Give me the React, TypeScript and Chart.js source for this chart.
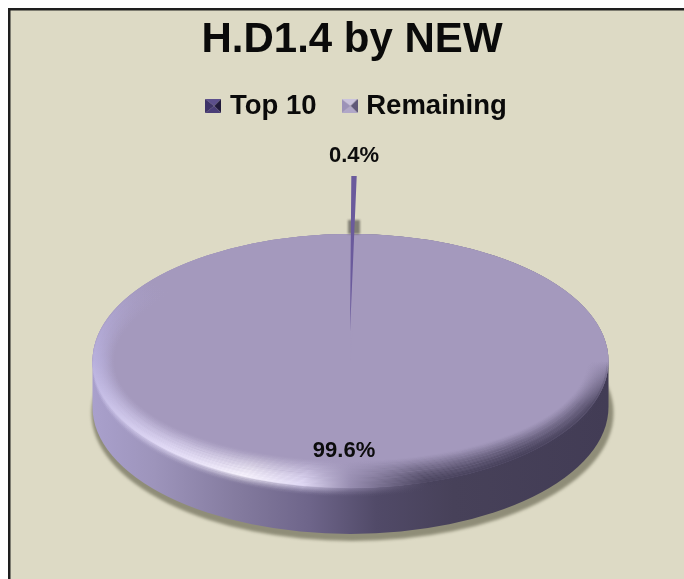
import { useEffect, useRef } from "react";
import { Chart, registerables } from "chart.js";

Chart.register(...registerables);

const TITLE = "H.D1.4 by NEW";
const categories = ["Top 10", "Remaining"];
const values = [0.4, 99.6];
const sliceColors = ["#6a5a9c", "#a499bd"];

const BG = "#dddac5";
const FRAME = "#1e1e1e";
// Projected disc: centre, half-axes and wall height.
const DISC = { cx: 350.5, cy: 361, rx: 258, ry: 127, wall: 46 };
// The narrow slice is pulled out towards the viewer's back.
const SLICE = { cx: 350, cy: 332, sx: 215, sy: 156 };

function marker(colors: string[]) {
  const c = document.createElement("canvas");
  c.width = 16;
  c.height = 14;
  const g = c.getContext("2d")!;
  const w = 16, h = 14, m = [w / 2 + 1, h / 2];
  const tri = (a: number[], b: number[], col: string) => {
    g.fillStyle = col;
    g.beginPath();
    g.moveTo(a[0], a[1]);
    g.lineTo(b[0], b[1]);
    g.lineTo(m[0], m[1]);
    g.closePath();
    g.fill();
  };
  tri([0, 0], [w, 0], colors[0]);
  tri([w, 0], [w, h], colors[1]);
  tri([w, h], [0, h], colors[2]);
  tri([0, h], [0, 0], colors[3]);
  return c;
}

const discPlugin = {
  id: "disc3d",
  beforeDraw(chart: any) {
    const { ctx, width, height } = chart;
    ctx.save();
    ctx.fillStyle = "#ffffff";
    ctx.fillRect(0, 0, width, height);
    ctx.fillStyle = BG;
    ctx.fillRect(10, 10, width - 10, height - 10);
    ctx.fillStyle = FRAME;
    ctx.fillRect(8, 8, width - 8, 2.5);
    ctx.fillRect(8, 8, 2.5, height - 8);
    ctx.restore();
  },
  afterLayout(chart: any) {
    // Title sits a little left of the legend in the picture.
    chart.titleBlock.left -= 6.5;
    chart.titleBlock.right -= 6.5;
  },
  beforeDatasetDraw(chart: any) {
    const { ctx } = chart;
    const { cx, cy, rx, ry, wall } = DISC;
    const arcs = chart.getDatasetMeta(0).data;

    // Ground shadow
    ctx.save();
    ctx.filter = "blur(1.5px)";
    ctx.fillStyle = "#8f8d78";
    ctx.beginPath();
    ctx.ellipse(cx + 2, cy + wall + 6, rx + 3, ry + 1, 0, 0, Math.PI * 2);
    ctx.fill();
    ctx.restore();

    // Side wall
    const side = ctx.createLinearGradient(cx - rx, 0, cx + rx, 0);
    side.addColorStop(0, "#a9a0cc");
    side.addColorStop(0.12, "#9d94bb");
    side.addColorStop(0.28, "#847b9f");
    side.addColorStop(0.42, "#6e658a");
    side.addColorStop(0.55, "#514a68");
    side.addColorStop(0.7, "#474159");
    side.addColorStop(1, "#423c55");
    ctx.save();
    ctx.fillStyle = side;
    ctx.beginPath();
    ctx.ellipse(cx, cy + wall, rx, ry, 0, 0, Math.PI);
    ctx.lineTo(cx - rx, cy);
    ctx.ellipse(cx, cy, rx, ry, 0, Math.PI, 0, false);
    ctx.lineTo(cx + rx, cy + wall);
    ctx.closePath();
    ctx.fill();
    ctx.restore();

    // Top face underlay, so the hairline gap of the big slice stays closed
    ctx.save();
    ctx.fillStyle = sliceColors[1];
    ctx.beginPath();
    ctx.ellipse(cx, cy, rx, ry, 0, 0, Math.PI * 2);
    ctx.fill();
    ctx.restore();

    // Big slice on the disc
    const big = arcs[1];
    ctx.save();
    ctx.translate(cx, cy);
    ctx.scale(rx / big.outerRadius, ry / big.outerRadius);
    ctx.translate(-big.x, -big.y);
    big.draw(ctx, chart.chartArea);
    ctx.restore();

    // Rim bevel
    const conic = ctx.createConicGradient(0, cx, cy);
    const stops: [number, string][] = [
      [0, "rgba(70,64,90,0)"],
      [0.03, "rgba(70,64,90,0.7)"],
      [0.08, "rgba(68,62,88,1)"],
      [0.16, "rgba(72,66,92,1)"],
      [0.25, "rgba(150,140,175,1)"],
      [0.31, "rgba(228,221,248,1)"],
      [0.37, "rgba(250,246,255,1)"],
      [0.43, "rgba(228,221,248,1)"],
      [0.5, "rgba(185,177,222,1)"],
      [0.56, "rgba(170,160,205,0)"],
      [1, "rgba(70,64,90,0)"],
    ];
    stops.forEach(([o, c]) => conic.addColorStop(o, c));

    // Soft blend of the rim down onto the wall
    const outer = 8;
    for (let i = 0; i < outer; i++) {
      ctx.save();
      ctx.strokeStyle = conic;
      ctx.globalAlpha = Math.pow(1 - i / outer, 1.6) * 0.5;
      ctx.lineWidth = 2;
      ctx.beginPath();
      ctx.ellipse(cx, cy + i * 1.1, rx - 1, ry, 0, 0, Math.PI);
      ctx.stroke();
      ctx.restore();
    }

    const steps = 22;
    for (let i = 0; i < steps; i++) {
      const t = i / steps;
      ctx.save();
      ctx.strokeStyle = conic;
      ctx.globalAlpha = Math.pow(1 - t, 1.2) * 0.85;
      ctx.lineWidth = 2;
      ctx.beginPath();
      ctx.ellipse(cx, cy, rx - 1 - i * 0.95, ry - 1 - i * 1.2, 0, 0, Math.PI * 2);
      ctx.stroke();
      ctx.restore();
    }

    // Shade cast by the pulled-out slice behind the rim
    ctx.save();
    ctx.filter = "blur(1px)";
    ctx.fillStyle = "rgba(105,102,95,0.8)";
    ctx.fillRect(cx - 2.5, cy - ry - 14, 12, 14);
    ctx.restore();

    // Narrow slice
    const small = arcs[0];
    ctx.save();
    ctx.translate(SLICE.cx, SLICE.cy);
    ctx.scale(SLICE.sx / small.outerRadius, SLICE.sy / small.outerRadius);
    ctx.translate(-small.x, -small.y);
    small.draw(ctx, chart.chartArea);
    ctx.restore();

    // Percentage labels
    const total = values.reduce((a, b) => a + b, 0);
    ctx.save();
    ctx.fillStyle = "#0c0c0c";
    ctx.font = "bold 22px 'Liberation Sans', Arial, sans-serif";
    ctx.textAlign = "center";
    ctx.textBaseline = "middle";
    const fmt = (v: number) => ((v / total) * 100).toFixed(1) + "%";
    ctx.fillText(fmt(values[0]), SLICE.cx + 4, SLICE.cy - SLICE.sy - 20);
    const mid = (big.startAngle + big.endAngle) / 2;
    ctx.fillText(
      fmt(values[1]),
      cx + Math.cos(mid) * rx * 0.72 - 3,
      cy + Math.sin(mid) * ry * 0.71
    );
    ctx.restore();
    return false;
  },
};

export default function App() {
  const ref = useRef<HTMLCanvasElement>(null);
  useEffect(() => {
    const markers = [
      marker(["#5c4f8c", "#211a3c", "#4a3e78", "#3e3368"]),
      marker(["#c9c2dc", "#5f5878", "#b0a7c8", "#9c92b8"]),
    ];
    const chart = new Chart(ref.current!, {
      type: "pie",
      data: {
        labels: categories,
        datasets: [{ data: values, backgroundColor: sliceColors, borderWidth: 0 }],
      },
      options: {
        responsive: false,
        animation: false,
        rotation: 0.35,
        layout: { padding: { left: 33, top: 14 } },
        plugins: {
          tooltip: { enabled: false },
          title: {
            display: true,
            text: TITLE,
            color: "#0a0a0a",
            font: { family: "'Liberation Sans', Arial, sans-serif", size: 42, weight: "bold", lineHeight: 1.1 },
            padding: { top: 3, bottom: -1 },
          },
          legend: {
            display: true,
            position: "top",
            labels: {
              usePointStyle: true,
              boxWidth: 6,
              padding: 30,
              color: "#0a0a0a",
              font: { family: "'Liberation Sans', Arial, sans-serif", size: 27.5, weight: "bold" },
              generateLabels: () =>
                categories.map((text, i) => ({
                  text,
                  pointStyle: markers[i],
                  fontColor: "#0a0a0a",
                  fillStyle: sliceColors[i],
                  strokeStyle: sliceColors[i],
                  lineWidth: 0,
                  hidden: false,
                  index: i,
                })),
            },
          },
        },
      },
      plugins: [discPlugin],
    } as any);
    return () => chart.destroy();
  }, []);
  return (
    <canvas
      ref={ref}
      width={684}
      height={579}
      style={{ position: "absolute", left: 0, top: 0, display: "block" }}
    />
  );
}
